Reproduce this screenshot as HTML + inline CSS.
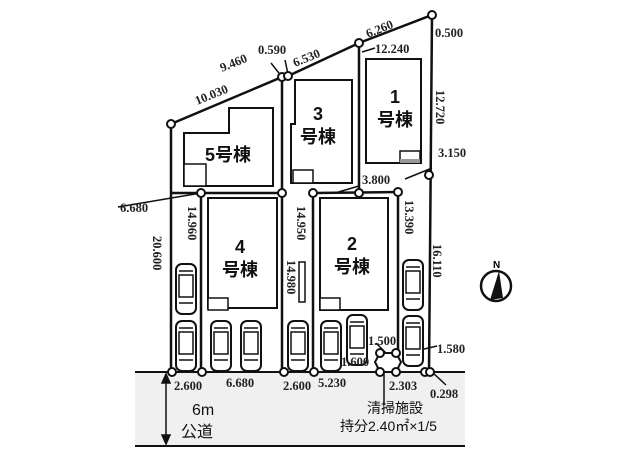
<!DOCTYPE html>
<html><head><meta charset="utf-8"><style>
html,body{margin:0;padding:0;background:#fff;}
svg{display:block;}
.d{font-family:"Liberation Serif",serif;font-weight:bold;font-size:12.5px;fill:#222;}
.b{font-family:"Liberation Sans","Noto Sans CJK JP",sans-serif;font-size:18px;font-weight:bold;fill:#111;}
.r{font-family:"Liberation Sans","Noto Sans CJK JP",sans-serif;font-size:14px;fill:#111;}
</style></head><body>
<svg width="620" height="463" viewBox="0 0 620 463" xmlns="http://www.w3.org/2000/svg">
<defs>
<g id="car"><rect x="-10" y="-25" width="20" height="50" rx="6" fill="#fff" stroke="#111" stroke-width="2"/><rect x="-7" y="-14" width="14" height="22" fill="none" stroke="#111" stroke-width="1.5"/><line x1="-7" y1="-18" x2="7" y2="-18" stroke="#111" stroke-width="1.5"/><line x1="-7" y1="14" x2="7" y2="14" stroke="#111" stroke-width="1.5"/></g>
</defs>
<rect x="135" y="372" width="330" height="74" fill="#f0f0f0"/>
<line x1="135" y1="372" x2="465" y2="372" stroke="#111" stroke-width="2"/>
<line x1="135" y1="446" x2="465" y2="446" stroke="#111" stroke-width="2"/>
<g stroke="#111" stroke-width="2.5" fill="none">
<polyline points="171,372 171,124 282,77 288,76 359,43 432,15 429,372"/>
<line x1="282" y1="80" x2="282" y2="372"/>
<line x1="313" y1="193" x2="313" y2="372"/>
<line x1="201" y1="193" x2="201" y2="372"/>
<line x1="359" y1="43" x2="359" y2="193"/>
<line x1="398" y1="192" x2="398" y2="360"/>
<line x1="201" y1="193" x2="282" y2="193"/>
<line x1="313" y1="193" x2="398" y2="192"/>
<line x1="171" y1="193" x2="201" y2="193"/>
</g>
<g stroke="#111" stroke-width="1.5">
<line x1="118" y1="207" x2="201" y2="193"/>
<line x1="271" y1="63" x2="282" y2="77"/>
<line x1="285" y1="60" x2="288" y2="74"/>
<line x1="362" y1="52" x2="375" y2="48"/>
<line x1="405" y1="179" x2="432" y2="168"/>
<line x1="335" y1="193" x2="359" y2="186"/>
<line x1="376" y1="343" x2="386" y2="353"/>
<line x1="420" y1="350" x2="437" y2="346"/>
<line x1="432" y1="372" x2="446" y2="385"/>
<line x1="384" y1="362" x2="384" y2="405"/>
<line x1="166" y1="378" x2="166" y2="440"/>
<polygon points="166,374 162,383 170,383" fill="#111"/>
<polygon points="166,444 162,435 170,435" fill="#111"/>
</g>
<polygon points="380,353 396,353 401,362 396,372 380,372 375,362" fill="#fff" stroke="#111" stroke-width="2"/>
<g fill="#fff" stroke="#111" stroke-width="2">
<circle cx="171" cy="124" r="4"/><circle cx="282" cy="77" r="4"/><circle cx="288" cy="76" r="4"/><circle cx="359" cy="43" r="4"/><circle cx="432" cy="15" r="4"/>
<circle cx="429" cy="175" r="4"/><circle cx="398" cy="192" r="4"/><circle cx="359" cy="193" r="4"/><circle cx="313" cy="193" r="4"/><circle cx="282" cy="193" r="4"/><circle cx="201" cy="193" r="4"/>
<circle cx="172" cy="372" r="4"/><circle cx="202" cy="372" r="4"/><circle cx="284" cy="372" r="4"/><circle cx="314" cy="372" r="4"/>
<circle cx="380" cy="353" r="4"/><circle cx="396" cy="353" r="4"/><circle cx="380" cy="372" r="4"/><circle cx="396" cy="372" r="4"/><circle cx="425" cy="372" r="4"/><circle cx="430" cy="372" r="4"/>
</g>
<g fill="#fff" stroke="#111" stroke-width="2">
<polygon points="229,108 273,108 273,186 184,186 184,133 229,133"/>
<polygon points="295,80 352,80 352,183 291,183 291,124 295,124"/>
<rect x="366" y="59" width="55" height="104"/>
<rect x="208" y="198" width="69" height="110"/>
<rect x="320" y="198" width="68" height="112"/>
</g>
<g fill="#fff" stroke="#111" stroke-width="1.5">
<rect x="184" y="164" width="22" height="22"/><rect x="293" y="170" width="20" height="13"/><rect x="400" y="151" width="20" height="12"/>
<rect x="208" y="298" width="20" height="12"/><rect x="320" y="298" width="20" height="12"/>
</g>
<rect x="400" y="159" width="20" height="4" fill="#999"/>
<use href="#car" x="186" y="289"/><use href="#car" x="186" y="346"/>
<use href="#car" x="221" y="346"/><use href="#car" x="251" y="346"/>
<use href="#car" x="298" y="346"/><use href="#car" x="331" y="346"/>
<use href="#car" x="357" y="340"/>
<use href="#car" x="413" y="285"/><use href="#car" x="413" y="341"/>
<rect x="299" y="262" width="6" height="40" fill="none" stroke="#111" stroke-width="1.5"/>
<text class="b" x="205" y="161">5号棟</text>
<text class="b" x="318" y="120" text-anchor="middle">3</text><text class="b" x="318" y="143" text-anchor="middle">号棟</text>
<text class="b" x="395" y="103" text-anchor="middle">1</text><text class="b" x="395" y="126" text-anchor="middle">号棟</text>
<text class="b" x="240" y="253" text-anchor="middle">4</text><text class="b" x="240" y="276" text-anchor="middle">号棟</text>
<text class="b" x="352" y="250" text-anchor="middle">2</text><text class="b" x="352" y="273" text-anchor="middle">号棟</text>
<g class="d">
<text x="368" y="38" transform="rotate(-22 368 38)">6.260</text>
<text x="435" y="37">0.500</text>
<text x="375" y="53">12.240</text>
<text x="295" y="67" transform="rotate(-22 295 67)">6.530</text>
<text x="258" y="54">0.590</text>
<text x="222" y="72" transform="rotate(-22 222 72)">9.460</text>
<text x="197" y="105" transform="rotate(-22 197 105)">10.030</text>
<text x="436" y="90" transform="rotate(90 436 90)">12.720</text>
<text x="438" y="157">3.150</text>
<text x="362" y="184">3.800</text>
<text x="120" y="212">6.680</text>
<text x="188" y="206" transform="rotate(90 188 206)">14.960</text>
<text x="153" y="236" transform="rotate(90 153 236)">20.600</text>
<text x="297" y="206" transform="rotate(90 297 206)">14.950</text>
<text x="287" y="260" transform="rotate(90 287 260)">14.980</text>
<text x="405" y="200" transform="rotate(90 405 200)">13.390</text>
<text x="433" y="244" transform="rotate(90 433 244)">16.110</text>
<text x="437" y="353">1.580</text>
<text x="368" y="345">1.500</text>
<text x="341" y="366">1.600</text>
<text x="174" y="390">2.600</text>
<text x="226" y="387">6.680</text>
<text x="283" y="390">2.600</text>
<text x="318" y="387">5.230</text>
<text x="389" y="390">2.303</text>
<text x="430" y="398">0.298</text>
</g>
<text class="r" x="192" y="415" style="font-size:16px">6m</text>
<text class="r" x="181" y="437" style="font-size:16px">公道</text>
<text class="r" x="367" y="413">清掃施設</text>
<text class="r" x="340" y="431">持分2.40㎡×1/5</text>
<circle cx="496" cy="286" r="15" fill="#fff" stroke="#111" stroke-width="2.5"/>
<polygon points="499,271 490,300 503,298" fill="#111"/>
<text x="493" y="268" style="font-family:'Liberation Sans',sans-serif;font-size:10px;font-weight:bold">N</text>
</svg>
</body></html>
